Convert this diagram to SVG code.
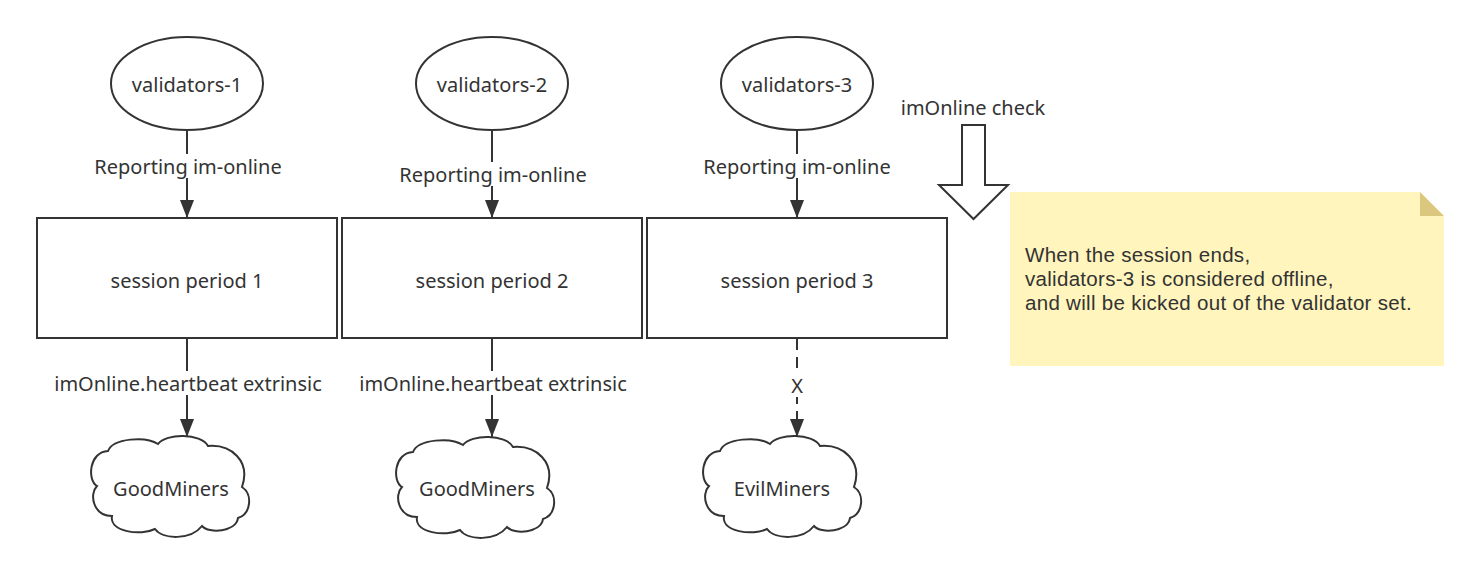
<svg xmlns="http://www.w3.org/2000/svg" width="1482" height="576" viewBox="0 0 1482 576">
<style>
.shape{fill:#fff;stroke:#333;stroke-width:2}
.t{font-family:"Noto Sans","Liberation Sans",sans-serif;font-size:20px;fill:#333;text-anchor:middle;dominant-baseline:central}
.nt{font-family:"Liberation Sans",Arial,sans-serif;font-size:20.5px;letter-spacing:0.3px;fill:#333}
.edge{stroke:#333;stroke-width:2;fill:none}
.dash{stroke-dasharray:11 7}
.lblbg{fill:#fff}
</style>
<defs>
<marker id="arr" viewBox="0 0 18 14" refX="18" refY="7" markerWidth="18" markerHeight="14" markerUnits="userSpaceOnUse" orient="auto">
<path d="M0,0 L18,7 L0,14 Z" fill="#333"/>
</marker>
<path id="cloud" d="M17,15 C22,2 55,0 67,8 C75,-3 110,-3 117,10 C140,8 160,25 151,51 C162,58 160,78 147,82 C145,96 118,98 111,90 C100,104 72,104 64,93 C50,100 18,96 21,80 C2,80 -2,58 6,50 C-4,44 -2,16 17,15 Z"/>
</defs>
<rect width="1482" height="576" fill="#fff"/>

<g id="connectors">
<line class="edge" x1="187" y1="130" x2="187" y2="218" marker-end="url(#arr)"/>
<line class="edge" x1="492" y1="130" x2="492" y2="218" marker-end="url(#arr)"/>
<line class="edge" x1="797" y1="130" x2="797" y2="218" marker-end="url(#arr)"/>
<line class="edge" x1="187" y1="338" x2="187" y2="437" marker-end="url(#arr)"/>
<line class="edge" x1="492" y1="338" x2="492" y2="437" marker-end="url(#arr)"/>
<line class="edge dash" x1="797" y1="339" x2="797" y2="437" marker-end="url(#arr)"/>
<rect class="lblbg" x="90" y="154" width="196" height="24"/>
<text class="t" x="188" y="166">Reporting im-online</text>
<rect class="lblbg" x="395" y="162" width="196" height="24"/>
<text class="t" x="493" y="174">Reporting im-online</text>
<rect class="lblbg" x="699" y="154" width="196" height="24"/>
<text class="t" x="797" y="166">Reporting im-online</text>
<rect class="lblbg" x="52" y="371" width="272" height="24"/>
<text class="t" x="188" y="383">imOnline.heartbeat extrinsic</text>
<rect class="lblbg" x="357" y="371" width="272" height="24"/>
<text class="t" x="493" y="383">imOnline.heartbeat extrinsic</text>
<rect class="lblbg" x="788" y="373" width="18" height="24"/>
<text class="t" x="797" y="385">X</text>
</g>

<g id="validators-1"><ellipse class="shape" cx="187" cy="83.5" rx="76" ry="46.5"/><text class="t" x="187" y="84">validators-1</text></g>
<g id="validators-2"><ellipse class="shape" cx="492" cy="83.5" rx="76" ry="46.5"/><text class="t" x="492" y="84">validators-2</text></g>
<g id="validators-3"><ellipse class="shape" cx="797" cy="83.5" rx="76" ry="46.5"/><text class="t" x="797" y="84">validators-3</text></g>

<g id="session-1"><rect class="shape" x="37" y="218" width="300" height="120"/><text class="t" x="187" y="280">session period 1</text></g>
<g id="session-2"><rect class="shape" x="342" y="218" width="300" height="120"/><text class="t" x="492" y="280">session period 2</text></g>
<g id="session-3"><rect class="shape" x="647" y="218" width="300" height="120"/><text class="t" x="797" y="280">session period 3</text></g>

<g id="goodminers-1"><use href="#cloud" class="shape" x="91" y="436"/><text class="t" x="171" y="488">GoodMiners</text></g>
<g id="goodminers-2"><use href="#cloud" class="shape" x="396" y="437"/><text class="t" x="477" y="488">GoodMiners</text></g>
<g id="evilminers"><use href="#cloud" class="shape" x="703" y="436"/><text class="t" x="782" y="488">EvilMiners</text></g>

<g id="imonline-check">
<text class="t" x="973" y="107">imOnline check</text>
<polygon class="shape" points="962,125 985,125 985,185 1008,185 973.5,219 939,185 962,185"/>
</g>

<g id="note">
<polygon points="1010,192 1420,192 1444,216 1444,366 1010,366" fill="#fff5bd"/>
<polygon points="1420,192 1420,216 1444,216" fill="#dcc77f"/>
<text class="nt" x="1025" y="262">When the session ends,</text>
<text class="nt" x="1025" y="286">validators-3 is considered offline,</text>
<text class="nt" x="1025" y="310">and will be kicked out of the validator set.</text>
</g>
</svg>
